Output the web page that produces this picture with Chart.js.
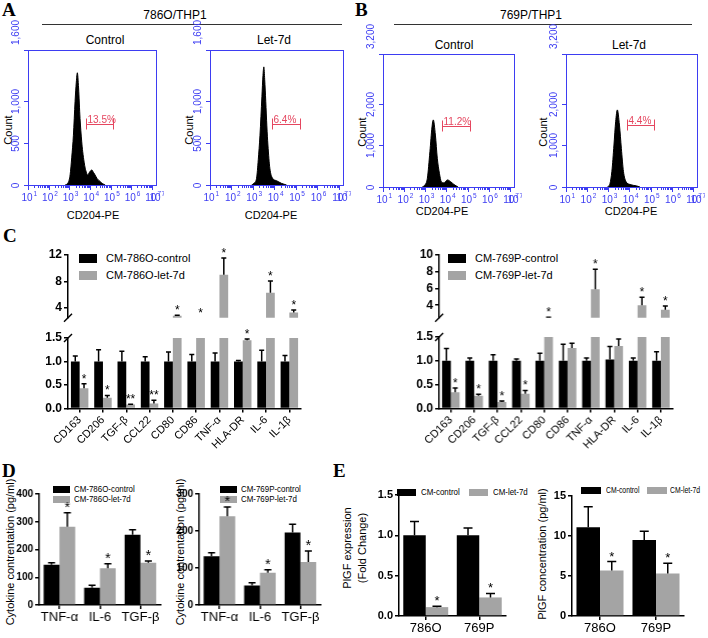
<!DOCTYPE html>
<html>
<head>
<meta charset="utf-8">
<script src="https://cdn.jsdelivr.net/npm/chart.js@4.4.1/dist/chart.umd.min.js"></script>
<style>
  html, body { margin: 0; padding: 0; background: #fff; }
  body { width: 708px; height: 638px; position: relative; overflow: hidden; font-family: 'Liberation Sans', Arial, sans-serif; color: #000; }
  .box { position: absolute; z-index: 2; }
  .t { position: absolute; white-space: nowrap; line-height: 1; transform: translate(-50%, -50%); }
  .v { transform: translate(-50%, -50%) rotate(-90deg); }
  .L { position: absolute; font: bold 19px 'Liberation Serif', serif; line-height: 1; }
  .rule { position: absolute; height: 1px; background: #333; }
  .key { position: absolute; z-index: 1; display: flex; align-items: center; white-space: nowrap; line-height: 1; height: 12px; }
  .key i { display: inline-block; }
  .key span { display: inline-block; transform-origin: left center; }
</style>
</head>
<body>
<script>
const FONT = "'Liberation Sans', Arial, sans-serif";
const BLUE = '#3d3df2', RED = '#e5465f', GRAY = '#a4a4a4';
Chart.defaults.font.family = FONT;

// ---- A / B: CD204-PE histograms (x = log10 intensity, y = count) ----
const decades = [1, 2, 3, 4, 5, 6, 7, 7.2];
const h786CtrlX = [2.8, 2.95, 3.04, 3.12, 3.2, 3.28, 3.34, 3.39, 3.45, 3.52, 3.6, 3.65, 3.72, 3.77, 3.84, 3.88, 3.95, 4.02, 4.09, 4.17, 4.25, 4.35, 4.5, 4.62, 4.74];
const h786CtrlY = [0, 30, 120, 330, 590, 990, 1220, 1330, 1150, 790, 520, 395, 270, 200, 140, 118, 140, 165, 178, 150, 118, 75, 40, 15, 0];
const h786LetX = [2.94, 3.05, 3.17, 3.25, 3.33, 3.42, 3.47, 3.51, 3.55, 3.6, 3.65, 3.7, 3.79, 3.92, 4.1, 4.33, 4.57];
const h786LetY = [0, 20, 79, 300, 590, 1047, 1300, 1400, 1250, 988, 700, 474, 198, 79, 51, 20, 0];
const h769CtrlX = [2.86, 3.0, 3.1, 3.22, 3.32, 3.38, 3.48, 3.57, 3.67, 3.76, 3.89, 3.97, 4.05, 4.2, 4.36, 4.55];
const h769CtrlY = [0, 60, 210, 850, 1450, 1614, 1250, 690, 330, 128, 100, 140, 170, 128, 60, 0];
const h769LetX = [2.96, 3.08, 3.17, 3.27, 3.35, 3.43, 3.53, 3.62, 3.72, 3.84, 4.03, 4.35, 4.5];
const h769LetY = [0, 80, 370, 1010, 1570, 1855, 1490, 930, 370, 130, 60, 25, 0];
const count1600 = [0, 500, 1000, 1600];
const count3200 = [0, 1000, 2000, 3200];
const gate786Ctrl = [3.82, 5.13, 720];
const gate786Let = [3.87, 5.19, 720];
const gate769Ctrl = [3.81, 5.1, 1460];
const gate769Let = [3.88, 5.17, 1500];
const gateText = ['13.5%', '6.4%', '11.2%', '4.4%'];

// ---- C: relative expression ----
const markers = ['CD163', 'CD206', 'TGF-β', 'CCL22', 'CD80', 'CD86', 'TNF-α', 'HLA-DR', 'IL-6', 'IL-1β'];
const c786Ctrl = [1, 1, 1, 1, 1, 1, 1, 1, 1, 1];
const c786CtrlErr = [0.12, 0.25, 0.22, 0.1, 0.2, 0.15, 0.18, 0.02, 0.24, 0.13];
const c786Let = [0.43, 0.23, 0.085, 0.11, 2.8, 2.0, 9.0, 1.45, 6.3, 3.3];
const c786LetErr = [0.1, 0.05, 0.01, 0.07, 0.1, 0, 2.55, 0.03, 1.75, 0.38];
const c786Sig = ['*', '*', '**', '**', '*', '*', '*', '*', '*', '*'];
const c769Ctrl = [1, 1, 1, 1, 1, 1, 1, 1.03, 1, 1];
const c769CtrlErr = [0.26, 0.06, 0.13, 0.04, 0.16, 0.35, 0.06, 0.27, 0.06, 0.19];
const c769Let = [0.34, 0.27, 0.14, 0.31, 2.3, 1.27, 5.9, 1.31, 4.0, 3.45];
const c769LetErr = [0.09, 0.03, 0.02, 0.07, 0.27, 0.1, 2.4, 0.15, 0.95, 0.45];
const c769Sig = ['*', '*', '*', '*', '*', '', '*', '', '*', '*'];

// ---- D: cytokines (pg/ml) ----
const cytokines = ['TNF-α', 'IL-6', 'TGF-β'];
const d786Ctrl = [145, 62, 253], d786CtrlErr = [7, 9, 18];
const d786Let = [282, 132, 152], d786LetErr = [50, 17, 7];
const d769Ctrl = [132, 53, 196], d769CtrlErr = [9, 7, 22];
const d769Let = [240, 87, 116], d769LetErr = [25, 8, 30];
const dSig = ['*', '*', '*'];

// ---- E: PlGF ----
const cells = ['786O', '769P'];
const eCtrl = [1.0, 1.0], eCtrlErr = [0.17, 0.09];
const eLet = [0.11, 0.23], eLetErr = [0.01, 0.05];
const pCtrl = [11.1, 9.5], pCtrlErr = [2.55, 1.1];
const pLet = [5.7, 5.3], pLetErr = [1.1, 1.3];
const eSig = ['*', '*'];

// ---------------------------------------------------------------
function mk(area, m, yw, xh, cfg) {
  const x = area.l - m.l, y = area.t - m.t;
  const w = area.r + m.r - x, h = area.b + m.b - y;
  const d = document.createElement('div');
  d.className = 'box';
  d.style.cssText = `left:${x}px;top:${y}px;width:${w}px;height:${h}px`;
  const c = document.createElement('canvas');
  d.appendChild(c);
  document.body.appendChild(d);
  Object.assign(cfg.options, {
    responsive: true, maintainAspectRatio: false, animation: false, events: [],
    layout: {padding: {left: m.l - yw, top: m.t, right: m.r, bottom: m.b - xh}}
  });
  return new Chart(c, cfg);
}

function txt(s, x, y, css, vertical) {
  const e = document.createElement('div');
  e.className = 't' + (vertical ? ' v' : '');
  e.textContent = s;
  e.style.cssText = `left:${x}px;top:${y}px;${css || ''}`;
  document.body.appendChild(e);
}

function key(x, y, color, label, bw, bh, size, gap, sx) {
  const e = document.createElement('div');
  e.className = 'key';
  e.style.cssText = `left:${x}px;top:${y - 6}px;font-size:${size}px`;
  e.innerHTML = `<i style="width:${bw}px;height:${bh}px;background:${color};margin-right:${gap}px"></i><span></span>`;
  const sp = e.querySelector('span');
  sp.textContent = label;
  sp.style.transform = `scaleX(${sx || 1})`;
  document.body.appendChild(e);
}

const flowPlugin = {
  id: 'flow',
  afterDraw(chart, args, o) {
    const {ctx, chartArea: a, scales: {x, y}} = chart;
    ctx.save();
    ctx.strokeStyle = BLUE; ctx.lineWidth = 1;
    ctx.strokeRect(Math.round(a.left) + 0.5, Math.round(a.top) + 0.5, Math.round(a.right - a.left), Math.round(a.bottom - a.top));
    ctx.beginPath();
    for (let k = 1; k <= 7; k++) {
      for (let n = 1; n <= 9; n++) {
        const v = k + Math.log10(n);
        if (v > 7.2) break;
        const px = Math.round(x.getPixelForValue(v)) + 0.5;
        ctx.moveTo(px, a.bottom);
        ctx.lineTo(px, a.bottom + (n === 1 ? 5 : 3));
      }
    }
    ctx.stroke();
    ctx.fillStyle = BLUE; ctx.textAlign = 'left'; ctx.textBaseline = 'alphabetic';
    decades.forEach(v => {
      const px = x.getPixelForValue(v);
      ctx.font = `10px ${FONT}`;
      const w1 = ctx.measureText('10').width;
      ctx.fillText('10', px - w1 / 2 - 1, a.bottom + 16);
      ctx.font = `6.5px ${FONT}`;
      ctx.fillText(String(v), px + w1 / 2, a.bottom + 11);
    });
    ctx.font = `10px ${FONT}`;
    o.yTicks.forEach((v, i) => {
      const py = Math.round(y.getPixelForValue(v)) + 0.5;
      ctx.beginPath(); ctx.moveTo(a.left, py); ctx.lineTo(a.left - 4, py); ctx.stroke();
      const last = i === o.yTicks.length - 1;
      ctx.save();
      ctx.translate(a.left - 7, last ? a.top - 5 : py);
      ctx.rotate(-Math.PI / 2);
      ctx.textAlign = last ? 'left' : 'center';
      ctx.textBaseline = 'bottom';
      ctx.fillText(v.toLocaleString('en-US'), 0, 0);
      ctx.restore();
    });
    const g = o.gate;
    const gx0 = Math.round(x.getPixelForValue(g[0])) + 0.5, gx1 = Math.round(x.getPixelForValue(g[1])) + 0.5;
    const gy = Math.round(y.getPixelForValue(g[2])) + 0.5;
    ctx.strokeStyle = RED; ctx.fillStyle = RED;
    ctx.beginPath();
    ctx.moveTo(gx0, gy); ctx.lineTo(gx1, gy);
    ctx.moveTo(gx0, gy - 6); ctx.lineTo(gx0, gy + 5);
    ctx.moveTo(gx1, gy - 6); ctx.lineTo(gx1, gy + 5);
    ctx.stroke();
    ctx.font = `10px ${FONT}`; ctx.textAlign = 'left'; ctx.textBaseline = 'alphabetic';
    ctx.fillText(o.label, gx0 + 1, gy - 2);
    ctx.restore();
  }
};

function flow(area, xs, ys, yMax, yTicks, gate, label) {
  return mk(area, {l: 22, t: 30, r: 8, b: 22}, 0, 0, {
    type: 'line',
    data: {datasets: [{data: xs.map((v, i) => ({x: v, y: ys[i]})), fill: 'origin', backgroundColor: '#000', borderColor: '#000', borderWidth: 1, pointRadius: 0, cubicInterpolationMode: 'monotone'}]},
    options: {
      scales: {x: {type: 'linear', min: 1, max: 7.2, display: false}, y: {min: 0, max: yMax, display: false}},
      plugins: {legend: {display: false}, tooltip: {enabled: false}, flow: {yTicks, gate, label}}
    },
    plugins: [flowPlugin]
  });
}

const errPlugin = {
  id: 'errs',
  afterDatasetsDraw(chart, args, o) {
    const {ctx, chartArea: a} = chart, ys = chart.scales.y;
    ctx.save();
    ctx.strokeStyle = '#000'; ctx.fillStyle = '#000'; ctx.lineWidth = 1.5;
    chart.data.datasets.forEach((ds, i) => {
      chart.getDatasetMeta(i).data.forEach((bar, j) => {
        const v = ds.data[j], e = o.err[i][j] || 0, top = v + e;
        if (e > 0) {
          ctx.save();
          ctx.beginPath(); ctx.rect(a.left, a.top - 2, a.right - a.left, a.bottom - a.top + 2); ctx.clip();
          const y0 = ys.getPixelForValue(v), y1 = ys.getPixelForValue(top);
          ctx.beginPath();
          ctx.moveTo(bar.x, y0); ctx.lineTo(bar.x, y1);
          ctx.moveTo(bar.x - o.cap / 2, y1); ctx.lineTo(bar.x + o.cap / 2, y1);
          ctx.stroke();
          ctx.restore();
        }
        const s = o.sig[i][j];
        if (s) {
          let yv = top, show = true;
          if (o.part === 'lower') show = top <= ys.max;
          if (o.part === 'upper') { show = top > o.lowMax; yv = Math.max(top, ys.min); }
          if (show) {
            ctx.font = `${o.star}px ${FONT}`; ctx.textAlign = 'center'; ctx.textBaseline = 'alphabetic';
            ctx.fillText(s, bar.x, ys.getPixelForValue(yv) - 1);
          }
        }
      });
    });
    if (o.brk) {
      const yb = o.brk === 'bottom' ? a.bottom : a.top;
      ctx.lineWidth = 1.5;
      ctx.beginPath();
      ctx.moveTo(a.left - 4, yb + 4); ctx.lineTo(a.left + 4, yb - 4);
      ctx.stroke();
    }
    ctx.restore();
  }
};

function barChart(o) {
  const xs = o.xh ? {
    grid: {drawOnChartArea: false, drawTicks: true, tickLength: 4, color: '#000', lineWidth: 1.5, offset: false},
    border: {color: '#000', width: 1.5},
    ticks: Object.assign({color: '#000', padding: 1, autoSkip: false}, o.xt),
    afterFit: s => { s.height = o.xh; }
  } : {display: false};
  const ys = Object.assign({
    border: {color: '#000', width: 1.5},
    grid: {drawOnChartArea: false, drawTicks: true, tickLength: 4, color: '#000', lineWidth: 1.5},
    ticks: Object.assign({color: '#000', padding: 2, font: o.yf}, o.yt),
    afterFit: s => { s.width = o.yw; }
  }, o.y);
  return mk(o.area, {l: o.yw + 2, t: 10, r: 8, b: o.xh + 2}, o.yw, o.xh, {
    type: 'bar',
    data: {labels: o.cats, datasets: o.sets.map(s => ({label: s.label, data: s.data, backgroundColor: s.color, categoryPercentage: o.cat, barPercentage: 1, clip: 0}))},
    options: {
      scales: {x: xs, y: ys},
      plugins: {legend: {display: false}, tooltip: {enabled: false},
        errs: {err: o.sets.map(s => s.err), sig: o.sets.map(s => s.sig || []), cap: o.cap, star: o.star, part: o.part, lowMax: o.lowMax, brk: o.brk}}
    },
    plugins: [errPlugin]
  });
}

// ---------------- panel A / B ----------------
flow({l: 28, r: 156, t: 50, b: 185}, h786CtrlX, h786CtrlY, 1600, count1600, gate786Ctrl, gateText[0]);
flow({l: 210, r: 343, t: 50, b: 185}, h786LetX, h786LetY, 1600, count1600, gate786Let, gateText[1]);
flow({l: 383, r: 514, t: 54, b: 187}, h769CtrlX, h769CtrlY, 3200, count3200, gate769Ctrl, gateText[2]);
flow({l: 566, r: 697, t: 54, b: 187}, h769LetX, h769LetY, 3200, count3200, gate769Let, gateText[3]);

// ---------------- panel C ----------------
const cFont = {family: FONT, size: 12, weight: 'bold'};
const cX = {font: {family: FONT, size: 11}, minRotation: 45, maxRotation: 45};
function brokenPanel(left, right, upTop, upBot, upMax, upTicks, lowTop, sets) {
  const upSets = sets.map(s => Object.assign({}, s));
  barChart({area: {l: left, r: right, t: upTop, b: upBot}, yw: 44, xh: 0, cats: markers, sets: upSets,
    y: {min: 2.5, max: upMax, afterBuildTicks: s => { s.ticks = upTicks.map(v => ({value: v})); }},
    yf: cFont, cat: 0.75, cap: 5, star: 12, part: 'upper', lowMax: 1.5, brk: 'bottom'});
  barChart({area: {l: left, r: right, t: lowTop, b: 408.3}, yw: 44, xh: 50, cats: markers, sets,
    y: {min: 0, max: 1.5}, yt: {stepSize: 0.5, callback: v => v.toFixed(1)}, xt: cX,
    yf: cFont, cat: 0.75, cap: 5, star: 12, part: 'lower', brk: 'top'});
}
brokenPanel(68, 301, 255, 325, 12, [4, 8, 12], 337.7, [
  {label: 'CM-786O-control', color: '#000', data: c786Ctrl, err: c786CtrlErr},
  {label: 'CM-786O-let-7d', color: GRAY, data: c786Let, err: c786LetErr, sig: c786Sig}
]);
brokenPanel(439, 671.6, 255, 325, 10, [4, 6, 8, 10], 336.7, [
  {label: 'CM-769P-control', color: '#000', data: c769Ctrl, err: c769CtrlErr},
  {label: 'CM-769P-let-7d', color: GRAY, data: c769Let, err: c769LetErr, sig: c769Sig}
]);
key(79, 258, '#000', 'CM-786O-control', 18, 9, 11, 9);
key(79, 275, GRAY, 'CM-786O-let-7d', 18, 9, 11, 9);
key(448, 258, '#000', 'CM-769P-control', 18, 9, 11, 9);
key(448, 275, GRAY, 'CM-769P-let-7d', 18, 9, 11, 9);

// ---------------- panel D ----------------
const dFont = {family: FONT, size: 10, weight: 'bold'};
const dX = {font: {family: FONT, size: 13}, maxRotation: 0};
barChart({area: {l: 39.3, r: 160, t: 494, b: 605}, yw: 30, xh: 24, cats: cytokines,
  sets: [{label: 'CM-786O-control', color: '#000', data: d786Ctrl, err: d786CtrlErr},
         {label: 'CM-786O-let-7d', color: GRAY, data: d786Let, err: d786LetErr, sig: dSig}],
  y: {min: 0, max: 400}, yt: {stepSize: 100}, xt: dX, yf: dFont, cat: 0.78, cap: 7, star: 14});
barChart({area: {l: 199.3, r: 320, t: 494, b: 605}, yw: 30, xh: 24, cats: cytokines,
  sets: [{label: 'CM-769P-control', color: '#000', data: d769Ctrl, err: d769CtrlErr},
         {label: 'CM-769P-let-7d', color: GRAY, data: d769Let, err: d769LetErr, sig: dSig}],
  y: {min: 0, max: 300}, yt: {stepSize: 100}, xt: dX, yf: dFont, cat: 0.78, cap: 7, star: 14});
key(53, 489, '#000', 'CM-786O-control', 17, 7, 9, 4, 0.88);
key(53, 499, GRAY, 'CM-786O-let-7d', 17, 7, 9, 4, 0.88);
key(220, 489, '#000', 'CM-769P-control', 17, 7, 9, 4, 0.88);
key(220, 499, GRAY, 'CM-769P-let-7d', 17, 7, 9, 4, 0.88);

// ---------------- panel E ----------------
const eFont = {family: FONT, size: 11, weight: 'bold'};
const eX = {font: {family: FONT, size: 13}, maxRotation: 0};
barChart({area: {l: 399, r: 506, t: 495, b: 616}, yw: 32, xh: 20, cats: cells,
  sets: [{label: 'CM-control', color: '#000', data: eCtrl, err: eCtrlErr},
         {label: 'CM-let-7d', color: GRAY, data: eLet, err: eLetErr, sig: eSig}],
  y: {min: 0, max: 1.5}, yt: {stepSize: 0.5, callback: v => v.toFixed(1)}, xt: eX, yf: eFont, cat: 0.84, cap: 9, star: 13});
barChart({area: {l: 572, r: 684, t: 496, b: 616}, yw: 30, xh: 20, cats: cells,
  sets: [{label: 'CM-control', color: '#000', data: pCtrl, err: pCtrlErr},
         {label: 'CM-let-7d', color: GRAY, data: pLet, err: pLetErr, sig: eSig}],
  y: {min: 0, max: 15}, yt: {stepSize: 5}, xt: eX, yf: eFont, cat: 0.84, cap: 9, star: 13});
key(397, 492, '#000', 'CM-control', 19, 7, 9, 5, 0.88);
key(469, 492, GRAY, 'CM-let-7d', 19, 7, 9, 5, 0.88);
key(581, 490, '#000', 'CM-control', 20, 7, 9, 5, 0.76);
key(647, 490, GRAY, 'CM-let-7d', 20, 7, 9, 3, 0.76);

// ---------------- texts ----------------
[['A', 2, 0], ['B', 355, 0], ['C', 3, 226], ['D', 2, 461], ['E', 333, 461]].forEach(([s, x, y]) => {
  const e = document.createElement('div');
  e.className = 'L'; e.textContent = s;
  e.style.left = x + 'px'; e.style.top = y + 'px';
  document.body.appendChild(e);
});
txt('786O/THP1', 175, 15, 'font-size:12px');
txt('769P/THP1', 531, 15, 'font-size:12px');
[[42, 300], [394, 298]].forEach(([x, w]) => {
  const e = document.createElement('div');
  e.className = 'rule'; e.style.left = x + 'px'; e.style.top = '24px'; e.style.width = w + 'px';
  document.body.appendChild(e);
});
txt('Control', 105, 40, 'font-size:12px');
txt('Let-7d', 274, 40, 'font-size:12px');
txt('Control', 454, 45, 'font-size:12px');
txt('Let-7d', 629, 45, 'font-size:12px');
txt('Count', 8, 130, 'font-size:11px', true);
txt('Count', 189, 130, 'font-size:11px', true);
txt('Count', 362, 132, 'font-size:11px', true);
txt('Count', 543, 132, 'font-size:11px', true);
txt('CD204-PE', 93, 215, 'font-size:11px');
txt('CD204-PE', 271, 215, 'font-size:11px');
txt('CD204-PE', 442, 211, 'font-size:11px');
txt('CD204-PE', 631, 211, 'font-size:11px');
txt('Cytokine contrentation (pg/ml)', 10, 552, 'font-size:11px', true);
txt('Cytokine contrentation (pg/ml)', 180, 552, 'font-size:11px', true);
txt('PlGF expression', 347, 548, 'font-size:11px', true);
txt('(Fold Change)', 362, 548, 'font-size:11px', true);
txt('PlGF concentration (pg/ml)', 542, 554, 'font-size:11px', true);
</script>
</body>
</html>
